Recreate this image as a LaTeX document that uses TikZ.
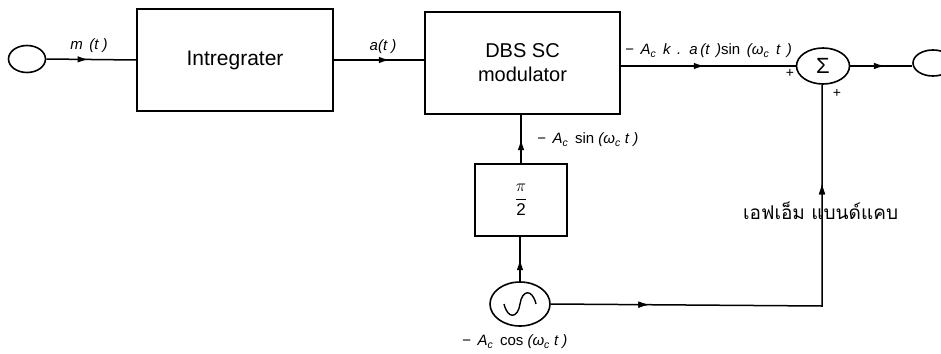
\documentclass[tikz,border=0pt]{standalone}
\usepackage{fontspec}
\setmainfont{Liberation Sans}
\newfontfamily\thaifont[Script=Thai]{Loma}
\usetikzlibrary{decorations.markings,arrows.meta,shapes.geometric}
\tikzset{
  blk/.style={draw, rectangle, inner sep=0pt, line width=1.6pt},
  oval/.style={draw, ellipse, inner sep=0pt, line width=1.6pt},
  conn/.style={line width=1.5pt},
  marrow/.style={decoration={markings, mark=at position #1 with {\arrow{Latex[length=11pt,width=6.5pt]}}}, postaction={decorate}},
  lbl/.style={font=\fontsize{15}{17}\selectfont\itshape, inner sep=1pt},
}
\begin{document}
\begin{tikzpicture}[x=1pt,y=-1pt]
\useasboundingbox (0,0) rectangle (941,353);
% nodes
\node[oval, minimum width=37pt, minimum height=27pt] (in) at (27,59) {};
\node[blk, minimum width=196pt, minimum height=102pt, font=\fontsize{21}{24}\selectfont] (int) at (235,60) {Intregrater};
\node[blk, minimum width=195pt, minimum height=102pt, font=\fontsize{20}{24}\selectfont, align=center] (mod) at (522.5,63) {DBS SC\\modulator};
\node[oval, minimum width=53pt, minimum height=36pt, font=\fontsize{22}{24}\selectfont] (sum) at (823,66) {Σ};
\node[oval, minimum width=40pt, minimum height=26pt] (out) at (933,63) {};
\node[blk, minimum width=92pt, minimum height=72pt, font=\fontsize{17}{20}\selectfont] (ph) at (521,200) {$\displaystyle\frac{\pi}{\textrm{2}}$};
\node[oval, minimum width=60pt, minimum height=44pt] (osc) at (520,304) {};
\coordinate (corner) at (822,306);
% sine symbol inside oscillator
\draw[line width=1.4pt] ([xshift=-16pt]osc.center) .. controls ([xshift=-12pt,yshift=-16pt]osc.center) and ([xshift=-2pt,yshift=-14pt]osc.center) .. (osc.center) .. controls ([xshift=2pt,yshift=14pt]osc.center) and ([xshift=12pt,yshift=16pt]osc.center) .. ([xshift=16pt]osc.center);
% connectors
\draw[conn, marrow=0.47] (in.east) -- (int.west);
\draw[conn, marrow=0.62] (int.east) -- (mod.west |- int.east);
\draw[conn, marrow=0.48] (mod.east |- sum.west) -- (sum.west);
\draw[conn, marrow=0.56] (sum.east) -- (out.west |- sum.east);
\draw[conn, marrow=0.5] (ph.north) -- (ph.north |- mod.south);
\draw[conn, marrow=0.5] (osc.north) -- (osc.north |- ph.south);
\draw[conn, marrow=0.2, marrow=0.8] (osc.east) -- (corner) -- (sum.south -| corner);
% labels
\node[lbl] at (89,46) {m\, (t )};
\node[lbl] at (383,47) {a(t )};
\node[lbl, anchor=west] at (624,51) {−\, A\textsubscript{c}\, k\, .\, a\,(t\, )\textup{sin}\, (ω\textsubscript{c}\, t\, )};
\node[font=\fontsize{14}{15}\selectfont] at (790,73) {+};
\node[font=\fontsize{14}{15}\selectfont] at (837,93) {+};
\node[lbl, anchor=west] at (536,140) {−\, A\textsubscript{c}\, \textup{sin} (ω\textsubscript{c} t )};
\node[lbl, anchor=west] at (461,342) {−\, A\textsubscript{c}\, \textup{cos} (ω\textsubscript{c} t )};
\node[font=\thaifont\fontsize{19}{22}\selectfont, anchor=west, inner sep=0pt] at (743,211) {เอฟเอ็ม แบนด์แคบ};
\end{tikzpicture}
\end{document}
